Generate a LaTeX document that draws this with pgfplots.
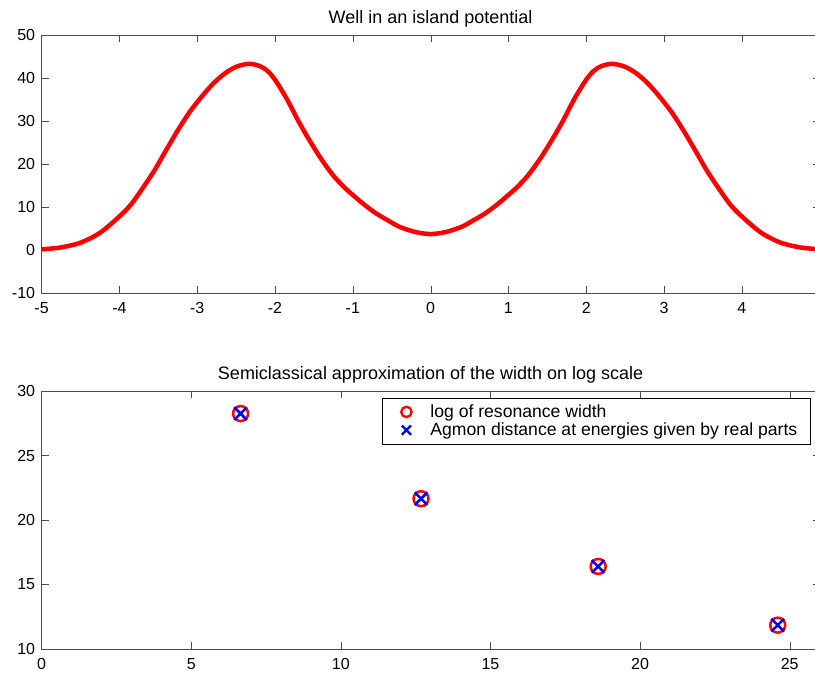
\documentclass[border=0pt]{standalone}
\usepackage{pgfplots}
\usepackage{pgfplotstable}
\pgfplotsset{compat=1.18}
\usepackage{fontspec}
\setmainfont{Liberation Sans}

\pgfplotsset{
  legend mark/.style={legend image code/.code={\path[draw=none] (-13pt,0pt) -- (22pt,0pt);
      \draw[##1, only marks, #1] plot coordinates {(0pt,0pt)};}},
}

% potential
\pgfplotstableread{
x      V
-5.00  0.15
-4.75  0.6
-4.50  1.7
-4.25  4.0
-4.00  7.8
-3.85  10.6
-3.70  14.4
-3.55  18.5
-3.40  23.2
-3.25  27.8
-3.10  32.0
-2.95  35.5
-2.80  38.6
-2.65  41.0
-2.50  42.6
-2.34  43.3
-2.20  42.8
-2.10  41.7
-2.00  39.6
-1.85  35.2
-1.70  30.0
-1.55  25.3
-1.40  21.0
-1.25  17.3
-1.10  14.4
-1.00  12.8
-0.85  10.5
-0.70  8.5
-0.55  6.9
-0.40  5.4
-0.20  4.2
 0.00  3.7
 0.20  4.2
 0.40  5.4
 0.55  6.9
 0.70  8.5
 0.85  10.5
 1.00  12.8
 1.10  14.4
 1.25  17.3
 1.40  21.0
 1.55  25.3
 1.70  30.0
 1.85  35.2
 2.00  39.6
 2.10  41.7
 2.20  42.8
 2.34  43.3
 2.50  42.6
 2.65  41.0
 2.80  38.6
 2.95  35.5
 3.10  32.0
 3.25  27.8
 3.40  23.2
 3.55  18.5
 3.70  14.4
 3.85  10.6
 4.00  7.8
 4.25  4.0
 4.50  1.7
 4.75  0.6
 5.00  0.15
}\welldata

\pgfplotstableread{
x      w
6.65   28.25
12.68  21.65
18.60  16.40
24.60  11.85
}\widthdata

\begin{document}
\begin{tikzpicture}
\pgfplotsset{every axis/.append style={
    scale only axis, width=778pt, height=258pt,
    font=\fontsize{18}{21}\selectfont,
    /pgf/number format/assume math mode=true,
    ticklabel style={font=\fontsize{16}{19}\selectfont},
    xticklabel style={yshift=-6pt},
    yticklabel style={xshift=-3pt},
    axis line style={black!70}, tick style={black!70},
    major tick length=7pt,
    title style={yshift=-2pt},
}}

\begin{axis}[
    at={(0pt,356pt)}, anchor=south west,
    xmin=-5, xmax=5, ymin=-10, ymax=50,
    xtick={-5,...,4}, ytick={-10,0,...,50},
    title={Well in an island potential},
]
\addplot[red, line width=4.5pt, smooth] table {\welldata};
\end{axis}

\begin{axis}[
    at={(0pt,0pt)}, anchor=south west,
    xmin=0, xmax=26, ymin=10, ymax=30,
    xtick={0,5,...,25}, ytick={10,15,...,30},
    title={Semiclassical approximation of the width on log scale},
    legend style={at={(1,1)}, anchor=north east, xshift=-9pt, yshift=-7pt,
        draw=black, line width=0.6pt, inner xsep=11pt, inner ysep=4.5pt,
        cells={anchor=west}, font=\fontsize{17.6}{20}\selectfont},
]
\addplot[only marks, red, mark=o, mark size=7.5pt, line width=2.5pt,
    legend mark={mark size=5.2pt, line width=2.3pt}]
    table {\widthdata};
\addplot[only marks, blue, mark=x, mark size=9pt, line width=2.5pt,
    legend mark={mark size=6.5pt, line width=2.3pt}]
    table {\widthdata};
\legend{log of resonance width, Agmon distance at energies given by real parts}
\end{axis}

\pgfresetboundingbox
\useasboundingbox (-41.6pt,-24pt) rectangle (773.4pt,649pt);
\end{tikzpicture}
\end{document}
